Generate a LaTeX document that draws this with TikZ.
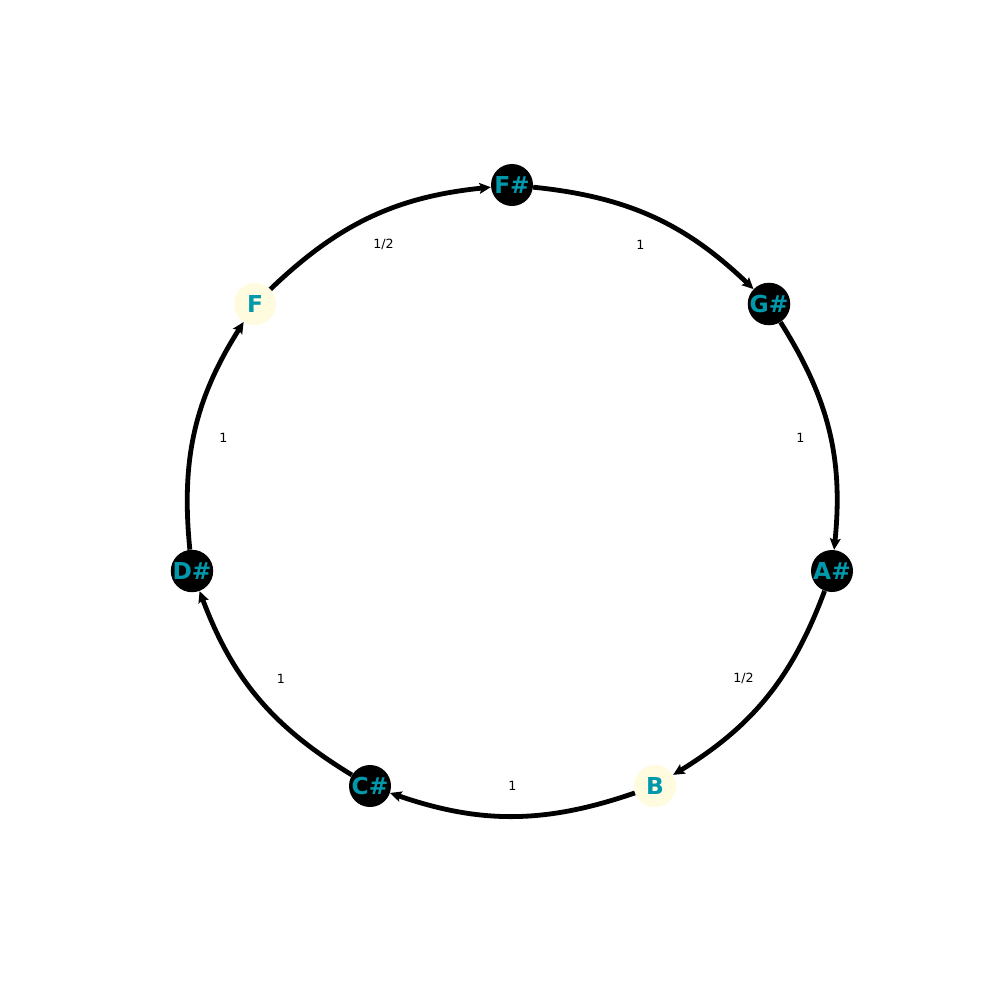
\documentclass[tikz,border=0pt]{standalone}
\usepackage{fontspec}
\setmainfont{DejaVu Sans}
\usetikzlibrary{arrows.meta}
\usetikzlibrary{calc}
\definecolor{notetxt}{RGB}{0,153,172}
\definecolor{natfill}{RGB}{255,251,222}
\tikzset{
  sharp/.style={circle, fill=black, minimum size=31.5pt, inner sep=0pt, text=notetxt, font=\fontsize{17.5}{19}\selectfont\bfseries},
  natural/.style={sharp, fill=natfill},
  stepedge/.style={line width=3.6pt, -{Stealth[length=8.5pt,width=8pt,inset=1.5pt]}, bend right=19},
  steplbl/.style={font=\fontsize{9.5}{11}\selectfont, inner sep=1pt}
}
\begin{document}
\begin{tikzpicture}[x=0.75pt,y=0.75pt,yscale=-1,xscale=1]
\useasboundingbox (0,0) rectangle (1000,1000);

% notes round the circle
\node [sharp]   (fs) at (512,185) {F\#};
\node [sharp]   (gs) at (769,304) {G\#};
\node [sharp]   (as) at (832,571) {A\#};
\node [natural] (b)  at (655,786) {B};
\node [sharp]   (cs) at (370,786) {C\#};
\node [sharp]   (ds) at (192,571) {D\#};
\node [natural] (f)  at (255,304) {F};

% steps
\draw [stepedge] (fs) to (gs);
\draw [stepedge] (gs) to (as);
\draw [stepedge] (as) to (b);
\draw [stepedge] (b) to (cs);
\draw [stepedge] (cs) to (ds);
\draw [stepedge] (ds) to (f);
\draw [stepedge] (f) to (fs);

% step sizes
\node [steplbl] (l1) at ($(fs)!0.5!(gs)$) {1};
\node [steplbl] (l2) at ($(gs)!0.5!(as)$) {1};
\node [steplbl] (l3) at ($(as)!0.5!(b)$) {1/2};
\node [steplbl] (l4) at ($(b)!0.5!(cs)$) {1};
\node [steplbl] (l5) at ($(cs)!0.5!(ds)$) {1};
\node [steplbl] (l6) at ($(ds)!0.5!(f)$) {1};
\node [steplbl] (l7) at ($(f)!0.5!(fs)$) {1/2};

\end{tikzpicture}
\end{document}
